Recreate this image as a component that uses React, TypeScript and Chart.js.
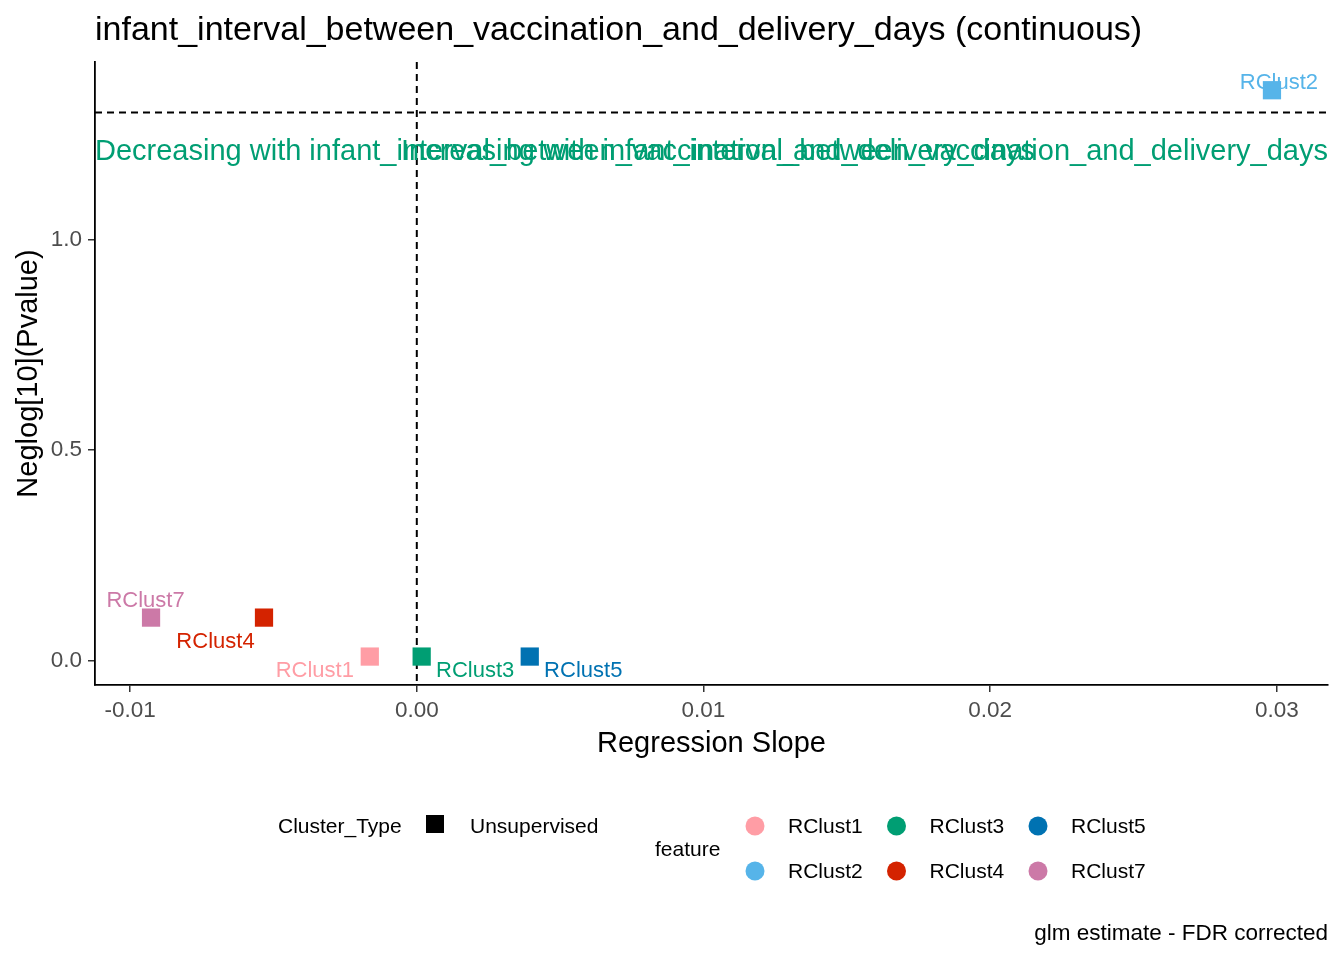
import { Chart, registerables } from 'chart.js';
import { useEffect, useRef } from 'react';

Chart.register(...registerables);

// data
const features = ['RClust1', 'RClust2', 'RClust3', 'RClust4', 'RClust5', 'RClust7'];
const slopes = [-0.00164, 0.02983, 0.00017, -0.00533, 0.00394, -0.00927];
const neglogP = [0.0095, 1.354, 0.0095, 0.102, 0.0095, 0.102];
const featureColors = ['#FF9DA5', '#56B4E9', '#009E73', '#D42300', '#0072B2', '#CC79A7'];
const xTicks = [-0.01, 0, 0.01, 0.02, 0.03];
const yTicks = [0, 0.5, 1.0];
const pThreshold = 1.301; // -log10(0.05)
const annotationY = 1.208;

// label offsets in pixels (repel-style placement)
const labelNudge = [
   [-55, 14],
   [7, -7],
   [53.5, 14],
   [-48.5, 24],
   [53.5, 14],
   [-5.5, -17],
];

const FONT = '"Liberation Sans", Arial, sans-serif';
const titleText = 'infant_interval_between_vaccination_and_delivery_days (continuous)';
const varName = 'infant_interval_between_vaccination_and_delivery_days';

const overlayPlugin = {
   id: 'overlay',
   beforeDatasetsDraw(chart: Chart) {
      const { ctx, chartArea } = chart;
      const xs = chart.scales.x;
      const ys = chart.scales.y;
      ctx.save();
      // dashed reference lines
      ctx.strokeStyle = '#000';
      ctx.lineWidth = 2;
      ctx.setLineDash([7, 5]);
      const hy = ys.getPixelForValue(pThreshold);
      ctx.beginPath();
      ctx.moveTo(chartArea.left, hy);
      ctx.lineTo(chartArea.right, hy);
      ctx.stroke();
      const vx = xs.getPixelForValue(0);
      ctx.beginPath();
      ctx.moveTo(vx, chartArea.top);
      ctx.lineTo(vx, chartArea.bottom);
      ctx.stroke();
      ctx.setLineDash([]);

      // direction annotations
      const ay = ys.getPixelForValue(annotationY);
      ctx.font = `29px ${FONT}`;
      ctx.fillStyle = '#009E73';
      ctx.textBaseline = 'middle';
      ctx.textAlign = 'left';
      ctx.fillText(`Decreasing with ${varName}`, chartArea.left, ay);
      ctx.textAlign = 'right';
      ctx.fillText(`Increasing with ${varName}`, chartArea.right, ay);

      // point labels
      ctx.font = `22px ${FONT}`;
      ctx.textAlign = 'center';
      features.forEach((f, i) => {
         const px = xs.getPixelForValue(slopes[i]);
         const py = ys.getPixelForValue(neglogP[i]);
         ctx.fillStyle = featureColors[i];
         ctx.fillText(f, px + labelNudge[i][0], py + labelNudge[i][1]);
      });
      ctx.restore();
   },
   afterDraw(chart: Chart) {
      const { ctx, chartArea } = chart;
      ctx.save();
      ctx.textBaseline = 'middle';
      ctx.fillStyle = '#000';

      // title
      ctx.font = `34px ${FONT}`;
      ctx.textAlign = 'left';
      ctx.fillText(titleText, chartArea.left, 31);

      // axis titles
      ctx.font = `29px ${FONT}`;
      ctx.textAlign = 'center';
      ctx.fillText('Regression Slope', (chartArea.left + chartArea.right) / 2, 744);
      ctx.save();
      ctx.translate(29, (chartArea.top + chartArea.bottom) / 2);
      ctx.rotate(-Math.PI / 2);
      ctx.fillText('Neglog[10](Pvalue)', 0, 0);
      ctx.restore();

      // legend: Cluster_Type
      ctx.font = `21px ${FONT}`;
      ctx.textAlign = 'left';
      ctx.fillText('Cluster_Type', 278, 827);
      ctx.fillRect(435 - 9, 824 - 9, 18, 18);
      ctx.fillText('Unsupervised', 470, 827);

      // legend: feature
      ctx.fillText('feature', 655, 850);
      features.forEach((f, i) => {
         const col = Math.floor(i / 2);
         const row = i % 2;
         const cx = 755 + col * 141.5;
         const cy = 826 + row * 45;
         ctx.fillStyle = featureColors[i];
         ctx.beginPath();
         ctx.arc(cx, cy, 9.5, 0, Math.PI * 2);
         ctx.fill();
         ctx.fillStyle = '#000';
         ctx.fillText(f, cx + 33, cy + 1);
      });

      // caption
      ctx.font = `22.5px ${FONT}`;
      ctx.textAlign = 'right';
      ctx.fillText('glm estimate - FDR corrected', chartArea.right, 934);
      ctx.restore();
   },
};

export default function App() {
   const chartRef = useRef<HTMLCanvasElement>(null);
   const chartInstance = useRef<Chart | null>(null);

   useEffect(() => {
      if (!chartRef.current) return;
      if (chartInstance.current) {
         chartInstance.current.destroy();
      }
      const ctx = chartRef.current.getContext('2d');
      if (!ctx) return;

      chartInstance.current = new Chart(ctx, {
         type: 'scatter',
         data: {
            datasets: [
               {
                  data: slopes.map((s, i) => ({ x: s, y: neglogP[i] })),
                  backgroundColor: featureColors,
                  borderWidth: 0,
                  pointStyle: 'rect',
                  pointRadius: 12.9,
                  pointHoverRadius: 12.9,
               },
            ],
         },
         options: {
            responsive: false,
            animation: false,
            layout: { padding: { left: 0, top: 62, right: 16, bottom: 195 } },
            plugins: {
               legend: { display: false },
               tooltip: { enabled: false },
            },
            scales: {
               x: {
                  type: 'linear',
                  min: -0.011225,
                  max: 0.031785,
                  afterFit: (scale: any) => {
                     scale.height = 80;
                  },
                  afterBuildTicks: (scale: any) => {
                     scale.ticks = xTicks.map((v) => ({ value: v }));
                  },
                  border: { display: true, color: '#000', width: 1.8 },
                  grid: {
                     drawOnChartArea: false,
                     drawTicks: true,
                     tickLength: 7,
                     color: '#333333',
                     lineWidth: 1.5,
                  },
                  ticks: {
                     color: '#4D4D4D',
                     font: { family: FONT, size: 22.5 },
                     padding: 5,
                     maxRotation: 0,
                     callback: (v: any) => Number(v).toFixed(2),
                  },
               },
               y: {
                  type: 'linear',
                  min: -0.058,
                  max: 1.421,
                  afterFit: (scale: any) => {
                     scale.width = 95;
                  },
                  afterBuildTicks: (scale: any) => {
                     scale.ticks = yTicks.map((v) => ({ value: v }));
                  },
                  border: { display: true, color: '#000', width: 1.8 },
                  grid: {
                     drawOnChartArea: false,
                     drawTicks: true,
                     tickLength: 7,
                     color: '#333333',
                     lineWidth: 1.5,
                  },
                  ticks: {
                     color: '#4D4D4D',
                     font: { family: FONT, size: 22.5 },
                     padding: 6,
                     callback: (v: any) => Number(v).toFixed(1),
                  },
               },
            },
         },
         plugins: [overlayPlugin],
      });

      return () => {
         if (chartInstance.current) {
            chartInstance.current.destroy();
            chartInstance.current = null;
         }
      };
   }, []);

   return (
      <div style={{ position: 'fixed', left: 0, top: 0, width: 1344, height: 960, background: '#fff' }}>
         <canvas ref={chartRef} width={1344} height={960} style={{ display: 'block' }} />
      </div>
   );
}
